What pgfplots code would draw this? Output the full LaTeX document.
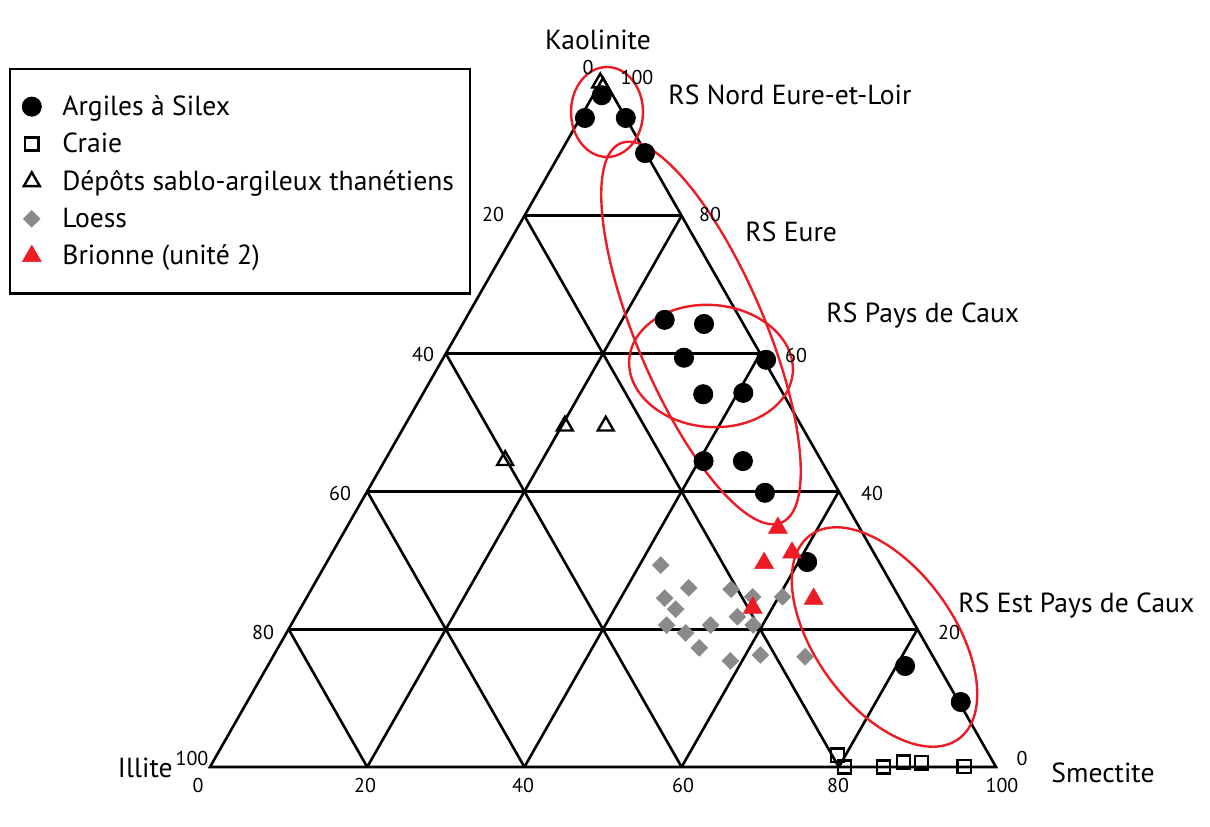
\documentclass[border=0pt]{standalone}
\usepackage{fontspec}
\setmainfont{PT Sans}
\usepackage{pgfplots}
\usepackage{pgfplotstable}
\pgfplotsset{compat=1.18}
\usetikzlibrary{shapes.geometric}

\definecolor{rsred}{RGB}{237,28,36}
\definecolor{loessgray}{RGB}{138,138,138}

% S = smectite %, K = kaolinite % (illite = 100 - S - K)
\pgfplotstableread{
S K
1.1 97.5
0.6 94.2
5.8 94.2
10.8 89.1
25.4 64.9
30.7 64.3
30.6 59.4
41.2 59.1
35.7 54.1
40.7 54.3
40.6 44.4
45.6 44.4
50.7 39.8
61.1 29.75
81.1 14.66
90.8 9.43
}\argiles

\pgfplotstableread{
S K
79.0 1.7
80.7 0
85.7 0
87.9 0.7
90.2 0.6
95.9 0.1
}\craie

\pgfplotstableread{
S K
0.0 99.3
15.3 44.5
20.4 49.5
25.6 49.5
}\thanetien

\pgfplotstableread{
S K
42.7 29.3
47.9 26.0
45.6 24.5
47.8 22.9
53.4 25.8
56.7 24.7
60.5 24.7
47.8 20.6
50.8 19.45
53.4 20.6
56.2 21.8
58.8 20.6
53.6 17.3
58.5 15.4
61.9 16.25
67.7 16.0
}\loess

\pgfplotstableread{
S K
54.9 34.7
55.7 29.6
58.5 31.1
57.5 23.1
64.6 24.4
}\brionne

% ternary -> page position (axis runs in picture units, 0.5pt each)
\pgfplotsset{
  table/tern/.style={
    x expr={210+7.86*(\thisrow{S}+0.5*\thisrow{K})},
    y expr={59+6.89*\thisrow{K}}
  },
}
\tikzset{gridline/.style={black, line width=1.3pt}}

\newcommand{\lbl}{\fontsize{13.8}{16}\selectfont}
\newcommand{\tk}{\fontsize{10}{12}\selectfont}

\begin{document}
\begin{tikzpicture}
\begin{axis}[
    width=605pt, height=413pt,
    scale only axis,
    xmin=0, xmax=1210, ymin=0, ymax=826,
    hide axis,
    clip=false,
    legend cell align=left,
    legend style={
        at={(axis cs:9,758)}, anchor=north west,
        draw=black, line width=1.2pt, fill=white,
        font=\lbl,
        inner xsep=6pt, inner ysep=11pt,
        row sep=3.3pt,
        /tikz/every odd column/.append style={column sep=8.5pt},
    },
]
\path (rel axis cs:0,0) rectangle (rel axis cs:1,1);

% frame and 20 % grid
\draw[gridline, line join=miter] (axis cs:210,59) -- (axis cs:996,59) -- (axis cs:603,748) -- cycle;
\draw[gridline] (axis cs:288.6,196.8) -- (axis cs:917.4,196.8);
\draw[gridline] (axis cs:367.2,334.6) -- (axis cs:838.8,334.6);
\draw[gridline] (axis cs:445.8,472.4) -- (axis cs:760.2,472.4);
\draw[gridline] (axis cs:524.4,610.2) -- (axis cs:681.6,610.2);
\draw[gridline] (axis cs:367.2,59) -- (axis cs:681.6,610.2);
\draw[gridline] (axis cs:524.4,59) -- (axis cs:760.2,472.4);
\draw[gridline] (axis cs:681.6,59) -- (axis cs:838.8,334.6);
\draw[gridline] (axis cs:838.8,59) -- (axis cs:917.4,196.8);
\draw[gridline] (axis cs:838.8,59) -- (axis cs:524.4,610.2);
\draw[gridline] (axis cs:681.6,59) -- (axis cs:445.8,472.4);
\draw[gridline] (axis cs:524.4,59) -- (axis cs:367.2,334.6);
\draw[gridline] (axis cs:367.2,59) -- (axis cs:288.6,196.8);

\addplot[only marks, mark=*, mark size=4.8pt, black, line width=0.4pt] table[tern] {\argiles};
\addlegendentry{Argiles à Silex}
\addplot[only marks, mark=square, mark size=3.3pt, black, line width=1.2pt] table[tern] {\craie};
\addlegendentry{Craie}
\addplot[only marks, mark=triangle, mark size=4.6pt, black, line width=1.2pt] table[tern] {\thanetien};
\addlegendentry{Dépôts sablo-argileux thanétiens}
\addplot[only marks, mark=square*, mark size=3pt, loessgray, line width=0.2pt,
    mark options={rotate=45, fill=loessgray}] table[tern] {\loess};
\addlegendentry{Loess}
\addplot[only marks, mark=triangle*, mark size=5.5pt, rsred, line width=0.2pt,
    mark options={fill=rsred}] table[tern] {\brionne};
\addlegendentry{Brionne (unité 2)}

% groups
\node[draw=rsred, line width=1.2pt, ellipse, inner sep=0pt, minimum width=36pt, minimum height=45pt] at (axis cs:607,714) {};
\node[draw=rsred, line width=1.2pt, ellipse, inner sep=0pt, minimum width=206pt, minimum height=64pt, rotate=-67] at (axis cs:701,493) {};
\node[draw=rsred, line width=1.2pt, ellipse, inner sep=0pt, minimum width=82pt, minimum height=61pt, rotate=-5] at (axis cs:711,460) {};
\node[draw=rsred, line width=1.2pt, ellipse, inner sep=0pt, minimum width=126pt, minimum height=69pt, rotate=-54] at (axis cs:884.5,189) {};

% corner and group labels
\node[font=\lbl] at (axis cs:598,786) {Kaolinite};
\node[font=\lbl, anchor=east, inner sep=0pt] at (axis cs:173,58) {Illite};
\node[font=\lbl] at (axis cs:1103,53) {Smectite};
\node[font=\lbl, anchor=west, inner sep=0pt] at (axis cs:668,731) {RS Nord Eure-et-Loir};
\node[font=\lbl, anchor=west, inner sep=0pt] at (axis cs:745,594) {RS Eure};
\node[font=\lbl, anchor=west, inner sep=0pt] at (axis cs:826,510) {RS Pays de Caux};
\node[font=\lbl, anchor=west, inner sep=0pt] at (axis cs:958,221) {RS Est Pays de Caux};

% tick labels
\node[font=\tk] at (axis cs:198,41) {0};
\node[font=\tk] at (axis cs:365,41) {20};
\node[font=\tk] at (axis cs:523,41) {40};
\node[font=\tk] at (axis cs:683,41) {60};
\node[font=\tk] at (axis cs:838,41) {80};
\node[font=\tk] at (axis cs:1002,41) {100};
\node[font=\tk] at (axis cs:588,758) {0};
\node[font=\tk] at (axis cs:493,611) {20};
\node[font=\tk] at (axis cs:423,472) {40};
\node[font=\tk] at (axis cs:340,333) {60};
\node[font=\tk] at (axis cs:263,194) {80};
\node[font=\tk, inner sep=0pt] at (axis cs:192,68) {100};
\node[font=\tk] at (axis cs:637,748) {100};
\node[font=\tk] at (axis cs:710,611) {80};
\node[font=\tk] at (axis cs:796,471) {60};
\node[font=\tk] at (axis cs:872,333) {40};
\node[font=\tk] at (axis cs:949,194) {20};
\node[font=\tk] at (axis cs:1022,68) {0};
\end{axis}
\end{tikzpicture}
\end{document}
